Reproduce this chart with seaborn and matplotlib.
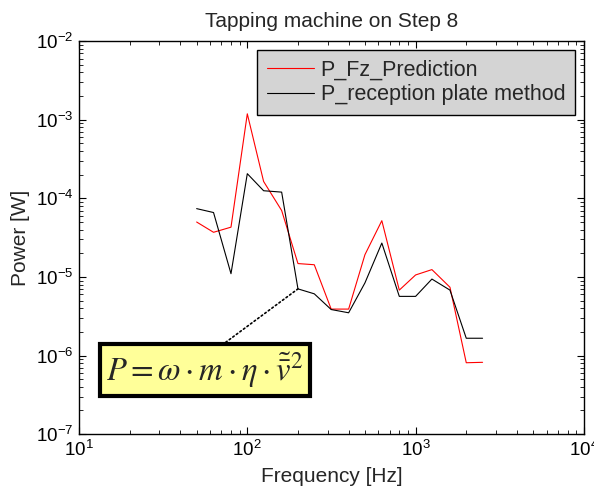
import pandas as pd
import seaborn as sns
import matplotlib
matplotlib.use("Agg")
import matplotlib.pyplot as plt
from matplotlib.ticker import LogLocator

# third-octave band centres [Hz]
freqs = [50, 63, 80, 100, 125, 160, 200, 250, 315, 400,
         500, 630, 800, 1000, 1250, 1600, 2000, 2500]
p_fz = [5.0e-5, 3.7e-5, 4.3e-5, 1.19e-3, 1.64e-4, 7.0e-5, 1.48e-5, 1.43e-5, 3.9e-6, 3.9e-6,
        1.92e-5, 5.2e-5, 6.8e-6, 1.06e-5, 1.24e-5, 7.4e-6, 8.1e-7, 8.2e-7]
p_plate = [7.4e-5, 6.6e-5, 1.1e-5, 2.06e-4, 1.25e-4, 1.2e-4, 7.05e-6, 6.1e-6, 3.85e-6, 3.5e-6,
           8.4e-6, 2.7e-5, 5.66e-6, 5.66e-6, 9.4e-6, 6.8e-6, 1.66e-6, 1.66e-6]
labels = ["P_Fz_Prediction", "P_reception plate method"]

df = pd.DataFrame({
    "f": freqs * 2,
    "P": p_fz + p_plate,
    "series": [labels[0]] * len(freqs) + [labels[1]] * len(freqs),
})

sns.set_style("ticks")
plt.rcParams["font.family"] = ["Liberation Sans", "DejaVu Sans"]
plt.rcParams["mathtext.fontset"] = "stix"

fig = plt.figure(figsize=(5.94, 4.90), dpi=100)
ax = fig.add_axes([0.133, 0.114, 0.850, 0.802])

sns.lineplot(data=df, x="f", y="P", hue="series", palette=["red", "black"],
             linewidth=0.8, ax=ax, sort=False, estimator=None)

ax.set_xscale("log")
ax.set_yscale("log")
ax.set_xlim(10, 1e4)
ax.set_ylim(1e-7, 1e-2)
ax.xaxis.set_major_locator(LogLocator(base=10, numticks=10))
ax.yaxis.set_major_locator(LogLocator(base=10, numticks=10))
ax.tick_params(which="both", direction="in", top=True, right=True, labelsize=13.5,
               colors="black", pad=4)
ax.tick_params(which="major", length=5)
ax.tick_params(which="minor", length=3)
for s in ax.spines.values():
    s.set_color("black")
    s.set_linewidth(1.0)

ax.set_title("Tapping machine on Step 8", fontsize=15, pad=10)
ax.set_xlabel("Frequency [Hz]", fontsize=15, labelpad=5)
ax.set_ylabel("Power [W]", fontsize=15, labelpad=4)

# MATLAB-style grey legend box
leg = ax.legend(loc="upper right", bbox_to_anchor=(0.982, 0.977), fontsize=15.5,
                frameon=True, fancybox=False, facecolor="#d4d4d4", edgecolor="black",
                framealpha=1, handlelength=2.2, handletextpad=0.3, borderpad=0.45,
                labelspacing=0.15, borderaxespad=0)
leg.get_frame().set_linewidth(1.0)

ax.annotate(r"$P=\omega\cdot m\cdot \eta\cdot \tilde{\bar{v}}^2$",
            xy=(freqs[6], p_plate[6]), xycoords="data",
            xytext=(0.2495, 0.163), textcoords="axes fraction",
            ha="center", va="center", fontsize=23.5,
            bbox=dict(boxstyle="square,pad=0.2", fc="#ffff99", ec="black", lw=3),
            arrowprops=dict(arrowstyle="-", linestyle=":", color="black", lw=1.2,
                            relpos=(0.55, 1.0), shrinkA=0, shrinkB=0))

fig.savefig("out.png", dpi=100)
